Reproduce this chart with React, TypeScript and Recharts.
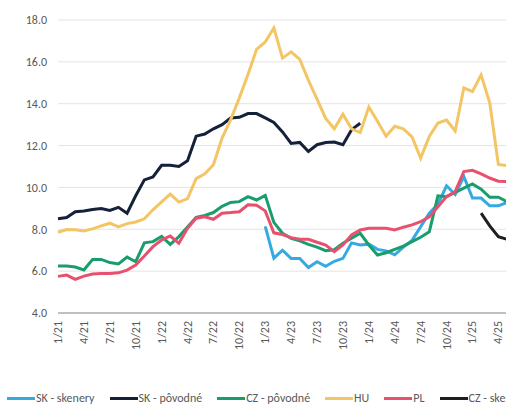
import { LineChart, Line, XAxis, YAxis, CartesianGrid, Legend } from "recharts";

// Monthly values, 1/21 .. 5/25. Chart is wider than the window and
// clipped on the right, the way the reference is cut off.

const months = [
  "1/21", "2/21", "3/21", "4/21", "5/21", "6/21", "7/21", "8/21", "9/21", "10/21", "11/21", "12/21",
  "1/22", "2/22", "3/22", "4/22", "5/22", "6/22", "7/22", "8/22", "9/22", "10/22", "11/22", "12/22",
  "1/23", "2/23", "3/23", "4/23", "5/23", "6/23", "7/23", "8/23", "9/23", "10/23", "11/23", "12/23",
  "1/24", "2/24", "3/24", "4/24", "5/24", "6/24", "7/24", "8/24", "9/24", "10/24", "11/24", "12/24",
  "1/25", "2/25", "3/25", "4/25", "5/25",
];

const n = null;

const skSkenery = [
  n, n, n, n, n, n, n, n, n, n, n, n,
  n, n, n, n, n, n, n, n, n, n, n, n,
  8.14, 6.62, 7.0, 6.61, 6.61, 6.17, 6.45, 6.23, 6.47, 6.61, 7.35, 7.25,
  7.29, 7.04, 6.97, 6.78, 7.15, 7.47, 8.12, 8.77, 9.2, 10.08, 9.66, 10.52,
  9.49, 9.49, 9.12, 9.12, 9.28,
];

const skPovodne = [
  8.5, 8.56, 8.84, 8.87, 8.95, 8.99, 8.9, 9.05, 8.77, 9.6, 10.36, 10.5,
  11.06, 11.06, 11.0, 11.27, 12.45, 12.55, 12.8, 13.0, 13.32, 13.35, 13.53, 13.53,
  13.32, 13.1, 12.65, 12.1, 12.15, 11.72, 12.04, 12.15, 12.17, 12.04, 12.76, 13.07,
  n, n, n, n, n, n, n, n, n, n, n, n,
  n, n, n, n, n,
];

const czPovodne = [
  6.24, 6.24, 6.2, 6.06, 6.56, 6.56, 6.41, 6.34, 6.67, 6.45, 7.35, 7.41,
  7.66, 7.28, 7.65, 8.11, 8.57, 8.66, 8.8, 9.1, 9.28, 9.32, 9.56, 9.4,
  9.62, 8.33, 7.81, 7.57, 7.45, 7.28, 7.15, 6.98, 7.02, 7.33, 7.57, 7.81,
  7.25, 6.77, 6.88, 7.04, 7.2, 7.41, 7.62, 7.88, 9.6, 9.56, 9.76, 9.97,
  10.17, 9.92, 9.53, 9.53, 9.32,
];

const hu = [
  7.86, 7.99, 7.98, 7.92, 8.02, 8.16, 8.29, 8.11, 8.27, 8.35, 8.5, 8.93,
  9.31, 9.68, 9.3, 9.47, 10.42, 10.65, 11.08, 12.36, 13.24, 14.28, 15.4, 16.6,
  16.95, 17.62, 16.18, 16.48, 16.12, 15.12, 14.22, 13.3, 12.8, 13.5, 12.8, 12.62,
  13.84, 13.16, 12.45, 12.92, 12.8, 12.42, 11.4, 12.44, 13.08, 13.22, 12.7, 14.76,
  14.58, 15.38, 14.04, 11.1, 11.04,
];

const pl = [
  5.75, 5.81, 5.61, 5.76, 5.86, 5.89, 5.89, 5.92, 6.05, 6.29, 6.72, 7.17,
  7.49, 7.68, 7.33, 8.05, 8.53, 8.6, 8.48, 8.77, 8.8, 8.84, 9.17, 9.15,
  8.88, 7.83, 7.75, 7.6, 7.52, 7.52, 7.38, 7.25, 6.93, 7.25, 7.73, 7.97,
  8.05, 8.05, 8.05, 7.97, 8.1, 8.21, 8.36, 8.6, 9.08, 9.56, 9.8, 10.76,
  10.82, 10.65, 10.45, 10.3, 10.28,
];

const czSkenery = [
  n, n, n, n, n, n, n, n, n, n, n, n,
  n, n, n, n, n, n, n, n, n, n, n, n,
  n, n, n, n, n, n, n, n, n, n, n, n,
  n, n, n, n, n, n, n, n, n, n, n, n,
  n, 8.77, 8.16, 7.65, 7.52,
];

const yTicks = [4, 6, 8, 10, 12, 14, 16, 18];

const series = [
  { key: "skSkenery", name: "SK - skenery", color: "#35aae2", values: skSkenery },
  { key: "skPovodne", name: "SK - pôvodné", color: "#15213a", values: skPovodne },
  { key: "czPovodne", name: "CZ - pôvodné", color: "#1a9d6d", values: czPovodne },
  { key: "hu", name: "HU", color: "#f3c564", values: hu },
  { key: "pl", name: "PL", color: "#e8506f", values: pl },
  { key: "czSkenery", name: "CZ - skenery", color: "#1e1e1e", values: czSkenery },
];

const data = months.map((m, i) => {
  const row: Record<string, string | number | null> = { m };
  for (const s of series) row[s.key] = s.values[i];
  return row;
});

const FONT = "Carlito, Calibri, 'Liberation Sans Narrow', 'DejaVu Sans Condensed', Roboto, sans-serif";
const TEXT = "#595959";

type TickProps = { x?: number; y?: number; payload?: { value: string } };

function MonthTick({ x = 0, y = 0, payload }: TickProps) {
  return (
    <text
      x={x}
      y={y}
      transform={`rotate(-90 ${x} ${y})`}
      textAnchor="end"
      dominantBaseline="central"
      fontSize={12}
      fontFamily={FONT}
      fill={TEXT}
    >
      {payload?.value}
    </text>
  );
}

function ChartLegend() {
  return (
    <div
      style={{
        display: "flex",
        alignItems: "center",
        height: 18,
        paddingLeft: 7,
        whiteSpace: "nowrap",
        fontSize: 12,
        fontFamily: FONT,
        color: TEXT,
      }}
    >
      {series.map((s) => (
        <div key={s.key} style={{ display: "flex", alignItems: "center", marginRight: 15 }}>
          <span style={{ display: "inline-block", width: 28, height: 3, background: s.color }} />
          <span style={{ marginLeft: 1 }}>{s.name}</span>
        </div>
      ))}
    </div>
  );
}

export default function App() {
  return (
    <div
      style={{
        position: "absolute",
        left: 0,
        top: 0,
        width: 506,
        height: 407,
        overflow: "hidden",
        background: "#fff",
        fontFamily: FONT,
      }}
    >
      <LineChart width={540} height={407} data={data} margin={{ top: 20, right: 33, bottom: 0, left: 0 }}>
        <CartesianGrid vertical={false} stroke="#e4e4e4" />
        <XAxis
          dataKey="m"
          interval={2}
          tickLine={false}
          tickSize={0}
          tickMargin={8}
          stroke="#8f8f8f"
          height={76}
          tick={<MonthTick />}
        />
        <YAxis
          domain={[4, 18]}
          ticks={yTicks}
          tickFormatter={(v: number) => v.toFixed(1)}
          axisLine={false}
          tickLine={false}
          tickSize={0}
          tickMargin={11}
          width={58}
          tick={{ fontSize: 12, fill: TEXT, fontFamily: FONT }}
        />
        <Legend
          verticalAlign="bottom"
          align="left"
          content={<ChartLegend />}
          wrapperStyle={{ left: 0, bottom: 0, width: 540 }}
        />
        {series.map((s) => (
          <Line
            key={s.key}
            type="linear"
            dataKey={s.key}
            name={s.name}
            stroke={s.color}
            strokeWidth={3}
            dot={false}
            activeDot={false}
            isAnimationActive={false}
          />
        ))}
      </LineChart>
    </div>
  );
}
